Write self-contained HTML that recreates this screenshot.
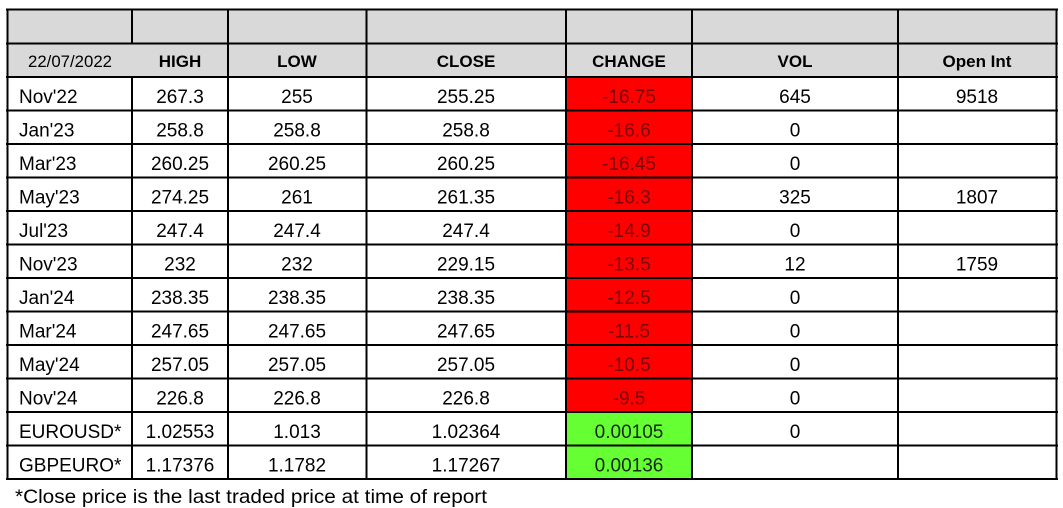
<!DOCTYPE html>
<html><head><meta charset="utf-8"><style>
html,body{margin:0;padding:0;background:#fff;}
svg{display:block;}
text{font-family:"Liberation Sans",Arial,sans-serif;}
.d{font-size:19px;fill:#000;}
.h{font-size:17px;font-weight:bold;fill:#000;}
</style></head><body>
<svg width="1063" height="508" viewBox="0 0 1063 508" xmlns="http://www.w3.org/2000/svg">
<rect x="0" y="0" width="1063" height="508" fill="#fff"/>
<rect x="7" y="9.5" width="1050" height="67.5" fill="#d9d9d9"/>
<rect x="566" y="77" width="126" height="335" fill="#ff0000"/>
<rect x="566" y="412" width="126" height="67" fill="#66ff33"/>
<g stroke="#000" stroke-width="2" fill="none">
<line x1="6" y1="9.5" x2="1058" y2="9.5"/>
<line x1="6" y1="43.5" x2="1058" y2="43.5"/>
<line x1="6" y1="77" x2="1058" y2="77"/>
<line x1="6" y1="110.5" x2="1058" y2="110.5"/>
<line x1="6" y1="144" x2="1058" y2="144"/>
<line x1="6" y1="177.5" x2="1058" y2="177.5"/>
<line x1="6" y1="211" x2="1058" y2="211"/>
<line x1="6" y1="244.5" x2="1058" y2="244.5"/>
<line x1="6" y1="278" x2="1058" y2="278"/>
<line x1="6" y1="311.5" x2="1058" y2="311.5"/>
<line x1="6" y1="345" x2="1058" y2="345"/>
<line x1="6" y1="378.5" x2="1058" y2="378.5"/>
<line x1="6" y1="412" x2="1058" y2="412"/>
<line x1="6" y1="445.5" x2="1058" y2="445.5"/>
<line x1="6" y1="479" x2="1058" y2="479"/>
<line x1="7.5" y1="8.5" x2="7.5" y2="480"/>
<line x1="132" y1="8.5" x2="132" y2="43.5"/>
<line x1="132" y1="77" x2="132" y2="480"/>
<line x1="228" y1="8.5" x2="228" y2="480"/>
<line x1="366.5" y1="8.5" x2="366.5" y2="480"/>
<line x1="566" y1="8.5" x2="566" y2="480"/>
<line x1="692" y1="8.5" x2="692" y2="480"/>
<line x1="898" y1="8.5" x2="898" y2="480"/>
<line x1="1056.5" y1="8.5" x2="1056.5" y2="480"/>
</g>
<text x="70" y="67" font-size="17" text-anchor="middle" textLength="84" lengthAdjust="spacingAndGlyphs">22/07/2022</text>
<g text-anchor="middle">
<text class="h" x="180" y="67">HIGH</text>
<text class="h" x="297" y="67">LOW</text>
<text class="h" x="466" y="67">CLOSE</text>
<text class="h" x="629" y="67">CHANGE</text>
<text class="h" x="795" y="67">VOL</text>
<text class="h" x="977" y="67">Open Int</text>
</g>
<g>
<text class="d" x="19" y="103">Nov'22</text>
<text class="d" x="19" y="136.5">Jan'23</text>
<text class="d" x="19" y="170">Mar'23</text>
<text class="d" x="19" y="203.5">May'23</text>
<text class="d" x="19" y="237">Jul'23</text>
<text class="d" x="19" y="270.5">Nov'23</text>
<text class="d" x="19" y="304">Jan'24</text>
<text class="d" x="19" y="337.5">Mar'24</text>
<text class="d" x="19" y="371">May'24</text>
<text class="d" x="19" y="404.5">Nov'24</text>
<text class="d" x="19" y="438">EUROUSD*</text>
<text class="d" x="19" y="471.5">GBPEURO*</text>
</g>
<g text-anchor="middle">
<text class="d" x="180" y="103">267.3</text><text class="d" x="297" y="103">255</text><text class="d" x="466" y="103">255.25</text><text class="d" x="629" y="103" style="fill:#7a0000">-16.75</text><text class="d" x="795" y="103">645</text><text class="d" x="977" y="103">9518</text>
<text class="d" x="180" y="136.5">258.8</text><text class="d" x="297" y="136.5">258.8</text><text class="d" x="466" y="136.5">258.8</text><text class="d" x="629" y="136.5" style="fill:#7a0000">-16.6</text><text class="d" x="795" y="136.5">0</text>
<text class="d" x="180" y="170">260.25</text><text class="d" x="297" y="170">260.25</text><text class="d" x="466" y="170">260.25</text><text class="d" x="629" y="170" style="fill:#7a0000">-16.45</text><text class="d" x="795" y="170">0</text>
<text class="d" x="180" y="203.5">274.25</text><text class="d" x="297" y="203.5">261</text><text class="d" x="466" y="203.5">261.35</text><text class="d" x="629" y="203.5" style="fill:#7a0000">-16.3</text><text class="d" x="795" y="203.5">325</text><text class="d" x="977" y="203.5">1807</text>
<text class="d" x="180" y="237">247.4</text><text class="d" x="297" y="237">247.4</text><text class="d" x="466" y="237">247.4</text><text class="d" x="629" y="237" style="fill:#7a0000">-14.9</text><text class="d" x="795" y="237">0</text>
<text class="d" x="180" y="270.5">232</text><text class="d" x="297" y="270.5">232</text><text class="d" x="466" y="270.5">229.15</text><text class="d" x="629" y="270.5" style="fill:#7a0000">-13.5</text><text class="d" x="795" y="270.5">12</text><text class="d" x="977" y="270.5">1759</text>
<text class="d" x="180" y="304">238.35</text><text class="d" x="297" y="304">238.35</text><text class="d" x="466" y="304">238.35</text><text class="d" x="629" y="304" style="fill:#7a0000">-12.5</text><text class="d" x="795" y="304">0</text>
<text class="d" x="180" y="337.5">247.65</text><text class="d" x="297" y="337.5">247.65</text><text class="d" x="466" y="337.5">247.65</text><text class="d" x="629" y="337.5" style="fill:#7a0000">-11.5</text><text class="d" x="795" y="337.5">0</text>
<text class="d" x="180" y="371">257.05</text><text class="d" x="297" y="371">257.05</text><text class="d" x="466" y="371">257.05</text><text class="d" x="629" y="371" style="fill:#7a0000">-10.5</text><text class="d" x="795" y="371">0</text>
<text class="d" x="180" y="404.5">226.8</text><text class="d" x="297" y="404.5">226.8</text><text class="d" x="466" y="404.5">226.8</text><text class="d" x="629" y="404.5" style="fill:#7a0000">-9.5</text><text class="d" x="795" y="404.5">0</text>
<text class="d" x="180" y="438">1.02553</text><text class="d" x="297" y="438">1.013</text><text class="d" x="466" y="438">1.02364</text><text class="d" x="629" y="438" style="fill:#0d2a0d">0.00105</text><text class="d" x="795" y="438">0</text>
<text class="d" x="180" y="471.5">1.17376</text><text class="d" x="297" y="471.5">1.1782</text><text class="d" x="466" y="471.5">1.17267</text><text class="d" x="629" y="471.5" style="fill:#0d2a0d">0.00136</text>
</g>
<text x="15" y="503" style="font-size:19.5px" textLength="472" lengthAdjust="spacingAndGlyphs">*Close price is the last traded price at time of report</text>
</svg>
</body></html>
